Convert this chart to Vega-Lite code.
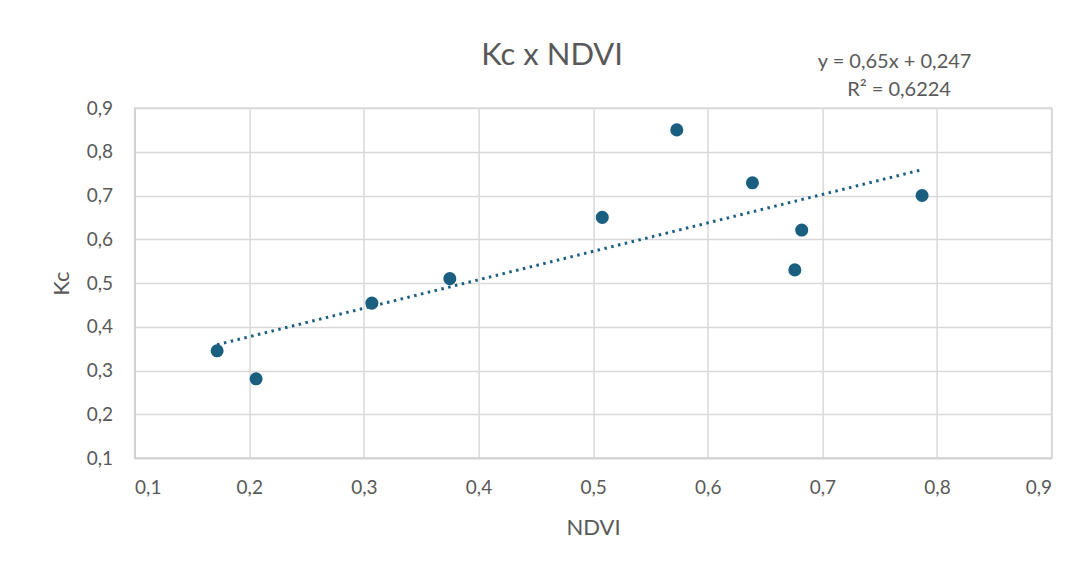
{
  "$schema": "https://vega.github.io/schema/vega-lite/v6.json",
  "autosize": "none",
  "width": 917,
  "height": 350,
  "padding": {"left": 134.6, "top": 108, "right": 37.4, "bottom": 113},
  "background": "white",
  "title": {
    "text": "Kc x NDVI",
    "font": "Lato",
    "fontSize": 31,
    "fontWeight": "normal",
    "color": "#595959",
    "anchor": "middle",
    "frame": "group",
    "baseline": "bottom",
    "offset": -51,
    "dx": -41
  },
  "datasets": {
    "points": [
      {"NDVI": 0.172, "Kc": 0.345},
      {"NDVI": 0.206, "Kc": 0.281},
      {"NDVI": 0.307, "Kc": 0.454},
      {"NDVI": 0.375, "Kc": 0.510},
      {"NDVI": 0.508, "Kc": 0.650},
      {"NDVI": 0.573, "Kc": 0.850},
      {"NDVI": 0.639, "Kc": 0.729},
      {"NDVI": 0.676, "Kc": 0.530},
      {"NDVI": 0.682, "Kc": 0.621},
      {"NDVI": 0.787, "Kc": 0.700}
    ],
    "trend": [
      {"NDVI": 0.172, "Kc": 0.359},
      {"NDVI": 0.787, "Kc": 0.759}
    ],
    "eq": [
      {"NDVI": 0.763, "Kc": 0.992, "label": "y = 0,65x + 0,247"},
      {"NDVI": 0.767, "Kc": 0.928, "label": "R² = 0,6224"}
    ]
  },
  "layer": [
    {
      "data": {"name": "trend"},
      "mark": {"type": "line", "color": "#1a5e80", "strokeWidth": 3, "strokeDash": [2.5, 4.5]},
      "encoding": {
        "x": {"field": "NDVI", "type": "quantitative"},
        "y": {"field": "Kc", "type": "quantitative"}
      }
    },
    {
      "data": {"name": "points"},
      "mark": {"type": "circle", "color": "#1a5e80", "opacity": 1, "size": 170},
      "encoding": {
        "x": {
          "field": "NDVI", "type": "quantitative",
          "scale": {"domain": [0.1, 0.9], "nice": false, "zero": false},
          "axis": {
            "title": "NDVI",
            "values": [0.1, 0.2, 0.3, 0.4, 0.5, 0.6, 0.7, 0.8, 0.9],
            "labelExpr": "replace(format(datum.value, '.1f'), '.', ',')",
            "labelPadding": 20,
            "titlePadding": 20
          }
        },
        "y": {
          "field": "Kc", "type": "quantitative",
          "scale": {"domain": [0.1, 0.9], "nice": false, "zero": false},
          "axis": {
            "title": "Kc",
            "values": [0.1, 0.2, 0.3, 0.4, 0.5, 0.6, 0.7, 0.8, 0.9],
            "labelExpr": "replace(format(datum.value, '.1f'), '.', ',')",
            "labelPadding": 22,
            "titlePadding": 13
          }
        }
      }
    },
    {
      "data": {"name": "eq"},
      "mark": {"type": "text", "font": "Lato", "fontSize": 20, "color": "#595959", "align": "center", "baseline": "alphabetic"},
      "encoding": {
        "x": {"field": "NDVI", "type": "quantitative"},
        "y": {"field": "Kc", "type": "quantitative"},
        "text": {"field": "label"}
      }
    }
  ],
  "config": {
    "view": {"stroke": "#d9d9d9", "strokeWidth": 1.5},
    "axis": {
      "grid": true,
      "gridColor": "#d9d9d9",
      "gridWidth": 1.5,
      "domainColor": "#d0d0d0",
      "domainWidth": 1.5,
      "ticks": false,
      "labelFont": "Lato",
      "labelFontSize": 19,
      "labelColor": "#595959",
      "titleFont": "Lato",
      "titleFontSize": 22,
      "titleFontWeight": "normal",
      "titleColor": "#595959"
    }
  }
}
